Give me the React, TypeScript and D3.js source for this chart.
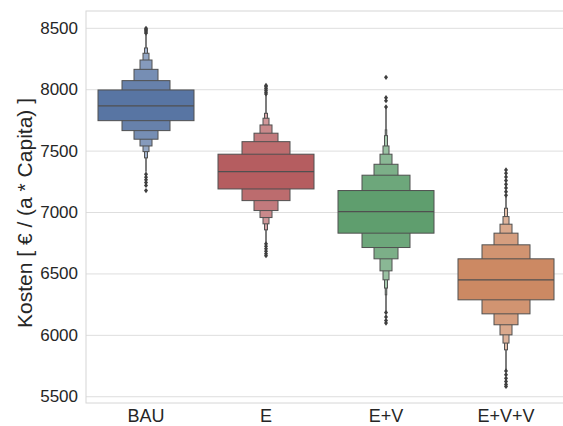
import React from "react";
import * as d3 from "d3";

const categories = ["BAU", "E", "E+V", "E+V+V"];
const baseColors = ["#5875A3", "#B55D60", "#5F9E6E", "#CC8963"];
const yTicks = [5500, 6000, 6500, 7000, 7500, 8000, 8500];

const medians = [7868, 7333, 7008, 6452];

const lowerLV = [
  [7748, 7667, 7597, 7542, 7496, 7445],
  [7192, 7097, 7016, 6959, 6908, 6859],
  [6832, 6715, 6623, 6525, 6452, 6385, 6330],
  [6289, 6175, 6086, 6004, 5937, 5882],
];
const upperLV = [
  [7998, 8074, 8166, 8242, 8297, 8340],
  [7475, 7577, 7646, 7713, 7768, 7808],
  [7179, 7304, 7393, 7475, 7542, 7626, 7673],
  [6623, 6737, 6832, 6905, 6967, 7035],
];

const whiskerLow = [7333, 6753, 6194, 5719];
const whiskerHigh = [8445, 7957, 7851, 7130];

const outliersHigh = [
  [8460, 8470, 8480, 8490, 8500],
  [7965, 7980, 7995, 8010, 8025, 8035],
  [7860, 7910, 7935, 8101],
  [7140, 7170, 7200, 7230, 7260, 7290, 7320, 7347],
];
const outliersLow = [
  [7312, 7288, 7266, 7244, 7220, 7179],
  [6745, 6725, 6705, 6685, 6665, 6648],
  [6185, 6150, 6120, 6100],
  [5710, 5680, 5650, 5625, 5600, 5584],
];

const W = 563;
const H = 426;
const left = 86;
const right = 566;
const top = 11;
const bottom = 403;

export default function App() {
  const x = d3.scaleBand<string>().domain(categories).range([left, right]).padding(0);
  const y = d3.scaleLinear().domain([5449, 8641]).range([bottom, top]);
  const bw = x.bandwidth() * 0.8;
  const edge = "#505050";
  const textColor = "#262626";
  const diamond = (cx: number, cy: number) =>
    `M${cx},${cy - 2.6}L${cx + 2},${cy}L${cx},${cy + 2.6}L${cx - 2},${cy}Z`;

  return (
    <svg
      width={W}
      height={H}
      style={{ position: "absolute", left: 0, top: 0, background: "#fff" }}
      fontFamily="'Liberation Sans', Arial, sans-serif"
    >
      <rect x={0} y={0} width={W} height={H} fill="#fff" />
      {yTicks.map((t) => (
        <g key={t}>
          <line x1={left} x2={right} y1={y(t)} y2={y(t)} stroke="#dedede" strokeWidth={1} />
          <text
            x={78}
            y={y(t)}
            textAnchor="end"
            dominantBaseline="central"
            fontSize={17}
            fill={textColor}
          >
            {t}
          </text>
        </g>
      ))}
      <rect
        x={left}
        y={top}
        width={right - left}
        height={bottom - top}
        fill="none"
        stroke="#d6d6d6"
        strokeWidth={1}
      />
      {categories.map((c, i) => {
        const cx = (x(c) as number) + x.bandwidth() / 2;
        const n = lowerLV[i].length;
        const levels = d3.range(n).reverse();
        return (
          <g key={c}>
            <line
              x1={cx}
              x2={cx}
              y1={y(whiskerLow[i])}
              y2={y(whiskerHigh[i])}
              stroke={edge}
              strokeWidth={1.5}
            />
            {levels.map((k) => {
              const w = bw * Math.pow(0.5, k);
              const fill = d3.interpolateRgb(baseColors[i], "#ffffff")(0.09 * k);
              return (
                <rect
                  key={k}
                  x={cx - w / 2}
                  y={y(upperLV[i][k])}
                  width={w}
                  height={y(lowerLV[i][k]) - y(upperLV[i][k])}
                  fill={fill}
                  stroke={edge}
                  strokeWidth={1}
                />
              );
            })}
            <line
              x1={cx - bw / 2}
              x2={cx + bw / 2}
              y1={y(medians[i])}
              y2={y(medians[i])}
              stroke={edge}
              strokeWidth={1.3}
            />
            {outliersHigh[i].concat(outliersLow[i]).map((v, j) => (
              <path key={j} d={diamond(cx, y(v))} fill="#3f3f3f" />
            ))}
            <text
              x={cx}
              y={421.5}
              textAnchor="middle"
              fontSize={18}
              fill={textColor}
            >
              {c}
            </text>
          </g>
        );
      })}
      <text
        transform={`translate(32, ${(top + bottom) / 2 + 6}) rotate(-90)`}
        textAnchor="middle"
        fontSize={21}
        fill={textColor}
      >
        Kosten [ € / (a * Capita) ]
      </text>
    </svg>
  );
}
